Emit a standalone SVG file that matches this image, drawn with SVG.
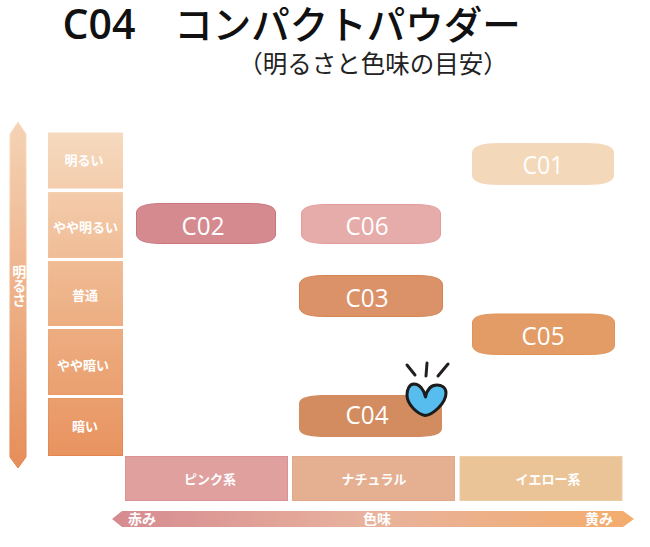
<svg xmlns="http://www.w3.org/2000/svg" width="650" height="547" viewBox="0 0 650 547">
<style>
text{font-family:"Noto Sans CJK JP","Noto Sans",sans-serif;text-anchor:middle}
.cat{fill:#fff;font-size:13px;font-weight:700}
.sw{fill:#fff;font-family:"Open Sans","Noto Sans",sans-serif;font-size:26px;font-weight:500}
</style>
<defs>
<linearGradient id="v" x1="0" y1="132" x2="0" y2="457" gradientUnits="userSpaceOnUse"><stop offset="0" stop-color="#f6dabf"/><stop offset="0.5" stop-color="#eeb48a"/><stop offset="1" stop-color="#e8935f"/></linearGradient>
<linearGradient id="vs" x1="0" y1="132" x2="0" y2="457" gradientUnits="userSpaceOnUse"><stop offset="0" stop-color="#f8dfc8"/><stop offset="0.5" stop-color="#efb68c"/><stop offset="1" stop-color="#e4844e"/></linearGradient>
<linearGradient id="a" x1="0" y1="122" x2="0" y2="468" gradientUnits="userSpaceOnUse"><stop offset="0" stop-color="#f5d3b5"/><stop offset="1" stop-color="#e68e5a"/></linearGradient>
<linearGradient id="h" x1="112" y1="0" x2="634" y2="0" gradientUnits="userSpaceOnUse"><stop offset="0" stop-color="#d68a90"/><stop offset="0.5" stop-color="#e8b39d"/><stop offset="1" stop-color="#f3ac6c"/></linearGradient>
</defs>
<g id="title">
<text x="99" y="39" style="font-family:'Open Sans',sans-serif;font-size:41px;font-weight:600" fill="#111">C04</text>
<text x="347.500" y="39" font-size="38.500" font-weight="500" fill="#111">コンパクトパウダー</text>
<text x="373" y="73" font-size="24.500" font-weight="400" fill="#222">（明るさと色味の目安）</text>
</g>
<g id="connectors">
<path id="axis-brightness" d="M18 122L26 134V457L18 468L10 457V134Z" fill="url(#a)" stroke="url(#vs)" stroke-width="1"/>
<path id="axis-hue" d="M112 519L122 511H623L634 519L623 527H122Z" fill="url(#h)"/>
</g>
<text class="cat" x="17" y="286" style="writing-mode:vertical-rl;font-size:14px" dominant-baseline="middle">明るさ</text>
<text class="cat" x="142" y="524" style="font-size:14px">赤み</text>
<text class="cat" x="377" y="524" style="font-size:14px">色味</text>
<text class="cat" x="599" y="524" style="font-size:14px">黄み</text>
<g id="row-1"><rect x="48" y="132.500" width="75" height="56" fill="url(#v)"/><text class="cat" x="84" y="165">明るい</text></g>
<g id="row-2"><rect x="48.500" y="192.500" width="74" height="65" fill="url(#v)" stroke="url(#vs)"/><text class="cat" x="85.500" y="232">やや明るい</text></g>
<g id="row-3"><rect x="48.500" y="261.500" width="74" height="64" fill="url(#v)" stroke="url(#vs)"/><text class="cat" x="85" y="300">普通</text></g>
<g id="row-4"><rect x="48.500" y="329.500" width="74" height="65" fill="url(#v)" stroke="url(#vs)"/><text class="cat" x="83" y="370">やや暗い</text></g>
<g id="row-5"><rect x="48.500" y="398.500" width="74" height="57" fill="url(#v)" stroke="url(#vs)"/><text class="cat" x="85" y="431">暗い</text></g>
<g id="col-pink"><rect x="125.500" y="456.500" width="162" height="44" fill="#e0a09e" stroke="#dc9294"/><text class="cat" x="210" y="484">ピンク系</text></g>
<g id="col-natural"><rect x="292.500" y="456.500" width="162" height="44" fill="#e5b092" stroke="#e3a888"/><text class="cat" x="374" y="484">ナチュラル</text></g>
<g id="col-yellow"><rect x="460" y="456.500" width="162" height="44" fill="#eac497" stroke="#efcda4"/><text class="cat" x="548" y="484">イエロー系</text></g>
<g id="c01"><path d="M472 153C472 146 482 143 500 143H586C604 143 614 146 614 153V175C614 182 604 185 586 185H500C482 185 472 182 472 175Z" fill="#f4d8ba"/><text class="sw" x="543" y="174" textLength="41" lengthAdjust="spacingAndGlyphs">C01</text></g>
<g id="c02"><path d="M136.500 213C136.500 206 146 203.500 164 203.500H248C266 203.500 275.500 206 275.500 213V234C275.500 241 266 243.500 248 243.500H164C146 243.500 136.500 241 136.500 234Z" fill="#d58a90" stroke="#c9747f"/><text class="sw" x="203" y="235" textLength="43" lengthAdjust="spacingAndGlyphs">C02</text></g>
<g id="c06"><path d="M301.500 214C301.500 207 311 204.500 329 204.500H413C431 204.500 440.500 207 440.500 214V234C440.500 241 431 243.500 413 243.500H329C311 243.500 301.500 241 301.500 234Z" fill="#e6acaa" stroke="#e39c9c"/><text class="sw" x="367" y="235" textLength="43" lengthAdjust="spacingAndGlyphs">C06</text></g>
<g id="c03"><path d="M299.500 285C299.500 278 309 275.500 327 275.500H415C433 275.500 442.500 278 442.500 285V307C442.500 314 433 316.500 415 316.500H327C309 316.500 299.500 314 299.500 307Z" fill="#db9268" stroke="#d68350"/><text class="sw" x="367" y="307" textLength="43" lengthAdjust="spacingAndGlyphs">C03</text></g>
<g id="c05"><path d="M472.500 323C472.500 316 482 314 500 314H587C605 314 614.500 316 614.500 323V345C614.500 352 605 354.500 587 354.500H500C482 354.500 472.500 352 472.500 345Z" fill="#e39c66" stroke="#e09358"/><text class="sw" x="543" y="345" textLength="43" lengthAdjust="spacingAndGlyphs">C05</text></g>
<g id="c04"><path d="M299 404C299 397 309 395 327 395H414C432 395 442 397 442 404V428C442 435 432 437 414 437H327C309 437 299 435 299 428Z" fill="#d28c5f"/><text class="sw" x="367" y="424" textLength="43" lengthAdjust="spacingAndGlyphs">C04</text></g>
<g id="heart">
<path d="M425.500 397C424 389 419 384 414 384C409 384 407 390 407 395C407 405 418 414 425 415.500C433 415 446 403 446 393C446 387 441 385 437 385C431 385 427 390 425.500 397Z" fill="#56bdee" stroke="#1c1c1c" stroke-width="3" stroke-linejoin="round"/>
<path d="M407 365L415 375M427 363L426 376M448 364L438 376" fill="none" stroke="#231f20" stroke-width="3" stroke-linecap="round"/>
</g>
</svg>
